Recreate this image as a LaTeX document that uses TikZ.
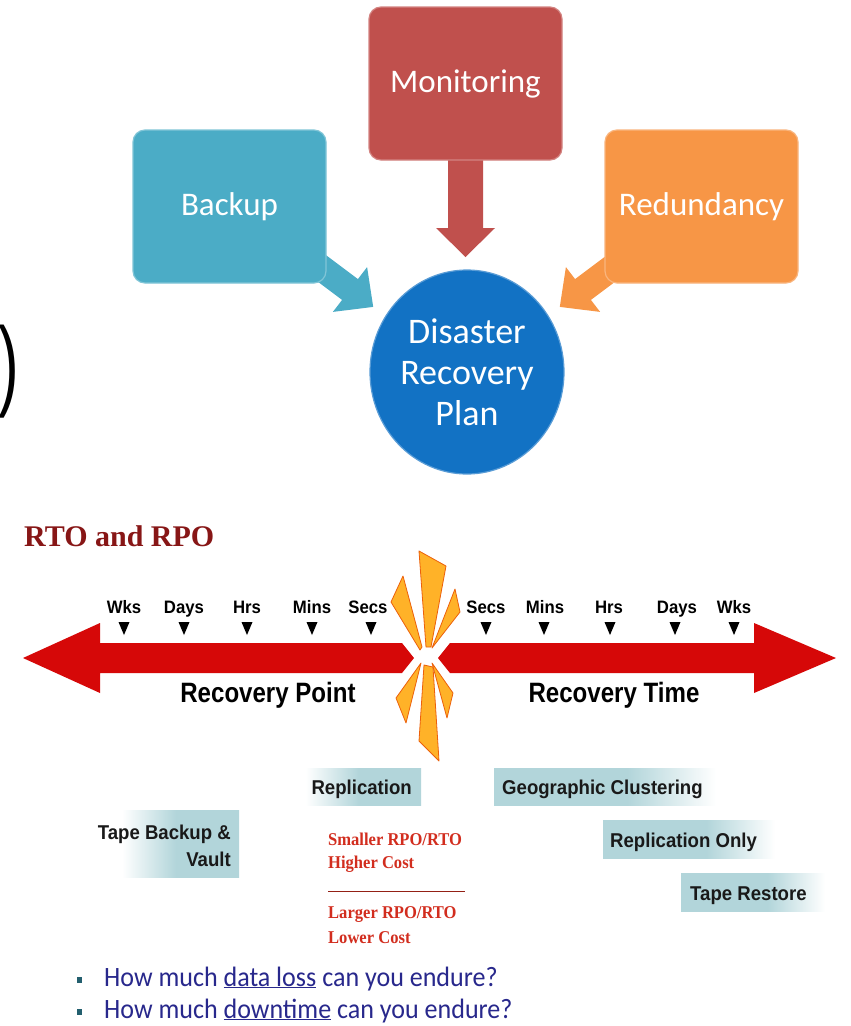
\documentclass[tikz,border=0pt]{standalone}
\usepackage{fontspec}
\usetikzlibrary{shapes.geometric}
\newfontfamily\calfont{Carlito}
\newfontfamily\calnarrow[FakeStretch=0.93]{Carlito}
\newfontfamily\arialfont{Liberation Sans}
\newfontfamily\arialnarrow[FakeStretch=0.93]{Liberation Sans}
\newfontfamily\arialcond[FakeStretch=0.86]{Liberation Sans}
\newfontfamily\timesfont{Liberation Serif}
\newfontfamily\timesnarrow[FakeStretch=0.92]{Liberation Serif}
\definecolor{monred}{RGB}{192,80,77}
\definecolor{bteal}{RGB}{75,172,198}
\definecolor{rorange}{RGB}{247,150,70}
\definecolor{drblue}{RGB}{18,114,196}
\definecolor{tlred}{RGB}{214,8,8}
\definecolor{boxteal}{RGB}{178,213,218}
\definecolor{rtored}{RGB}{135,22,22}
\definecolor{costred}{RGB}{210,45,30}
\definecolor{qblue}{RGB}{40,40,140}
\definecolor{bulletc}{RGB}{35,95,110}
\definecolor{spikefill}{RGB}{255,178,40}
\definecolor{spikeedge}{RGB}{236,96,10}
\pgfdeclarehorizontalshading{wtot}{100bp}{color(0bp)=(white); color(25bp)=(white); color(38bp)=(white); color(55bp)=(boxteal); color(75bp)=(boxteal); color(100bp)=(boxteal)}
\pgfdeclarehorizontalshading{ttow}{100bp}{color(0bp)=(boxteal); color(25bp)=(boxteal); color(55bp)=(boxteal); color(75bp)=(white); color(100bp)=(white)}
\begin{document}
\begin{tikzpicture}[x=1pt,y=-1pt,
  topbox/.style={rounded corners=12pt, minimum width=193pt, minimum height=153pt, inner sep=0pt,
    text=white, font=\calfont\fontsize{33}{40}\selectfont, fill=#1, draw=#1!70!white, line width=1.2pt},
  blockarrow/.style={fill=#1},
  tlarrow/.style={fill=tlred},
  spike/.style={fill=spikefill, draw=spikeedge, line width=0.8pt, line join=round},
  tlabel/.style={inner sep=0pt, anchor=base, font=\arialnarrow\bfseries\fontsize{18}{20}\selectfont},
  marker/.style={fill=black},
  bigtlabel/.style={inner sep=0pt, anchor=base, font=\arialcond\bfseries\fontsize{28}{30}\selectfont},
  tealbox/.style={inner sep=0pt, shading=#1},
  boxtext/.style={inner sep=0pt, font=\arialnarrow\bfseries\fontsize{20}{23}\selectfont, text=black!90},
  costtext/.style={inner sep=0pt, anchor=base west, text=costred, font=\timesnarrow\bfseries\fontsize{18}{20}\selectfont},
  question/.style={inner sep=0pt, anchor=base west, text=qblue, font=\calnarrow\fontsize{28}{30}\selectfont}
]
\useasboundingbox (0,0) rectangle (851,1026);
\fill[white] (0,0) rectangle (851,1026);

% ---------- top diagram ----------
\coordinate (bkTip) at (373.2,306.9);
\coordinate (rdTip) at (559.8,306.9);
\coordinate (mnTip) at (465.5,257);
\fill[blockarrow=bteal] (317.9,249.1) -- (357.9,279.1) -- (367.1,267.1) -- (bkTip) -- (332.9,311.9) -- (342.1,299.9) -- (302.1,269.9) -- cycle;
\fill[blockarrow=rorange] (615.1,249.1) -- (575.1,279.1) -- (565.9,267.1) -- (rdTip) -- (600.1,311.9) -- (590.9,299.9) -- (630.9,269.9) -- cycle;
\fill[blockarrow=monred] (448,150) -- (483,150) -- (483,228) -- (495,228) -- (mnTip) -- (436,228) -- (448,228) -- cycle;

\node[topbox=monred] (mon) at (465.5,83.5) {Monitoring};
\node[topbox=bteal] (bak) at (229.5,206.5) {Backup};
\node[topbox=rorange] (red) at (701.5,206.5) {Redundancy};
\node[ellipse, fill=drblue, draw=drblue!70!white, line width=1.2pt, minimum width=194pt, minimum height=204pt,
  inner sep=0pt, text=white, align=center, font=\calfont\fontsize{36}{41}\selectfont] (drp) at (467,372) {Disaster\\Recovery\\Plan};

\node[anchor=west, inner sep=0pt, font=\arialfont\fontsize{100}{100}\selectfont] (paren) at (-1.5,372) {\scalebox{0.62}[1]{)}};

% ---------- RTO and RPO ----------
\node[anchor=base west, inner sep=0pt, text=rtored, font=\timesfont\bfseries\fontsize{30}{32}\selectfont] (title) at (24,546) {RTO and RPO};

\fill[tlarrow] (23,658) -- (100,623) -- (100,643) -- (402,643) -- (414,658) -- (402,673) -- (100,673) -- (100,693) -- cycle;
\fill[tlarrow] (836,658) -- (754,623) -- (754,643) -- (450,643) -- (438,658) -- (450,673) -- (754,673) -- (754,693) -- cycle;

% burst
\draw[spike] (419,551) -- (446,566) -- (431,647) -- (426,647) -- cycle;
\draw[spike] (403,576) -- (422,647) -- (420,650) -- (391,602) -- cycle;
\draw[spike] (455,589) -- (460,612) -- (432,648) -- cycle;
\draw[spike] (421,663) -- (406,723) -- (396,698) -- cycle;
\draw[spike] (424,665) -- (433,667) -- (439,761) -- (419,741) -- cycle;
\draw[spike] (432,663) -- (453,693) -- (447,718) -- cycle;

\foreach \x/\t in {124/Wks,184/Days,247/Hrs,312/Mins,368/Secs,486/Secs,545/Mins,609/Hrs,677/Days,734/Wks}
  \node[tlabel] (lab\x) at (\x,613) {\t};
\foreach \x in {124,184,247,312,371,486,544,610,675,734}
  \fill[marker] ({\x-5.5},622) -- ({\x+5.5},622) -- (\x,635) -- cycle;

\node[bigtlabel] (rp) at (268,702) {Recovery Point};
\node[bigtlabel] (rt) at (614,702) {Recovery Time};

% ---------- solution boxes ----------
\node[tealbox=wtot, minimum width=156pt, minimum height=37pt] (repbox) at (343,786.5) {};
\node[boxtext, anchor=base east] (reptxt) at (412,794) {Replication};
\node[tealbox=ttow, minimum width=222pt, minimum height=37pt] (geobox) at (605,786.5) {};
\node[boxtext, anchor=base west] (geotxt) at (502,794) {Geographic Clustering};
\node[tealbox=wtot, minimum width=158pt, minimum height=67pt] (tapebox) at (160,843.5) {};
\node[boxtext, anchor=base east] (tapetxt1) at (231,839) {Tape Backup \&};
\node[boxtext, anchor=base east] (tapetxt2) at (231,866) {Vault};
\node[tealbox=ttow, minimum width=172pt, minimum height=38pt] (robox) at (689,839) {};
\node[boxtext, anchor=base west] (rotxt) at (610,847) {Replication Only};
\node[tealbox=ttow, minimum width=144pt, minimum height=38pt] (trbox) at (753,892) {};
\node[boxtext, anchor=base west] (trtxt) at (690,900) {Tape Restore};

\node[costtext] (c1) at (328,845) {Smaller RPO/RTO};
\node[costtext] (c2) at (328,868) {Higher Cost};
\draw[costred!70!black, line width=0.9pt] (328,891) -- (465,891);
\node[costtext] (c3) at (328,918) {Larger RPO/RTO};
\node[costtext] (c4) at (328,943) {Lower Cost};

% ---------- questions ----------
\fill[bulletc] (77,977) rectangle (82,983);
\fill[bulletc] (77,1009) rectangle (82,1015);
\node[question] (q1) at (104,986) {How much \underline{data loss} can you endure?};
\node[question] (q2) at (104,1018) {How much \underline{downtime} can you endure?};
\end{tikzpicture}
\end{document}
